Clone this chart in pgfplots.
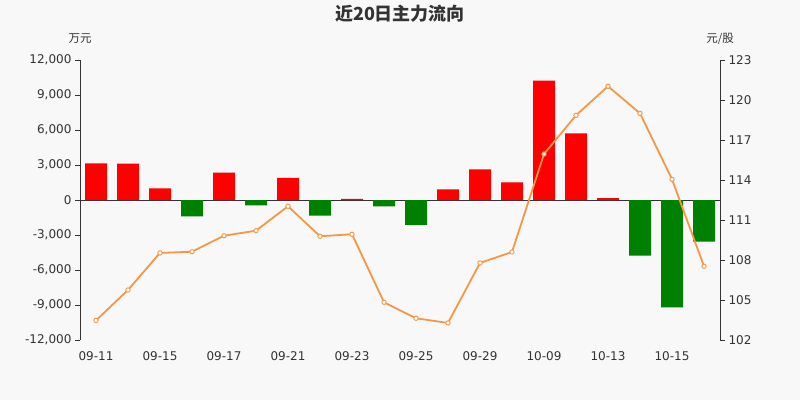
\documentclass[border=0pt]{standalone}
\usepackage{fontspec}
\setmainfont{DejaVu Sans}
\newfontfamily\cjk{Noto Sans CJK SC}
\usepackage{pgfplots}
\pgfplotsset{compat=1.18}
\definecolor{bgcol}{HTML}{F8F8F8}
\definecolor{txt}{HTML}{333333}
\definecolor{upred}{HTML}{FF0000}
\definecolor{dngreen}{HTML}{008000}
\definecolor{pricecol}{HTML}{F79646}
\begin{document}
\begin{tikzpicture}[x=1pt,y=1pt]
\useasboundingbox (0,0) rectangle (800,400);
\fill[bgcol] (0,0) rectangle (800,400);
\node[font=\cjk\bfseries\fontsize{18}{18}\selectfont, text=txt] at (400,386) {近20日主力流向};
\node[font=\cjk\fontsize{11.5}{11.5}\selectfont, text=txt] at (80,361) {万元};
\node[font=\cjk\fontsize{11.5}{11.5}\selectfont, text=txt] at (720,361) {元/股};
\begin{axis}[
  at={(80pt,60pt)}, anchor=south west,
  scale only axis, width=640pt, height=280pt,
  xmin=-0.5, xmax=19.5, ymin=-12000, ymax=12000,
  axis y line*=left, axis x line*=middle,
  hide obscured y ticks=false, hide obscured x ticks=false,
  axis line style={txt, line width=0.8pt, -},
  every tick/.style={txt, line width=0.8pt},
  tick align=outside, major tick length=5pt,
  scaled y ticks=false,
  ytick={-12000,-9000,...,12000},
  yticklabels={{-12,000},{-9,000},{-6,000},{-3,000},0,{3,000},{6,000},{9,000},{12,000}},
  xtick={0,2,...,18},
  xticklabels={09-11,09-15,09-17,09-21,09-23,09-25,09-29,10-09,10-13,10-15},
  x tick style={draw=none},
  extra x ticks={1.5,3.5,...,17.5},
  extra x tick labels={},
  extra x tick style={x tick style={txt, line width=0.8pt}, major tick length=5pt},
  xticklabel shift=143pt,
  ticklabel style={font=\fontsize{12}{12}\selectfont, text=txt},
  /pgf/number format/assume math mode=true,
  ybar, bar width=22pt, bar shift=0pt,
  clip=false,
]
\addplot[fill=upred, draw=none] coordinates {
 (0,3150) (1,3120) (2,1000) (4,2340) (6,1890) (8,90)
 (11,920) (12,2630) (13,1515) (14,10230) (15,5715) (16,170)};
\addplot[fill=dngreen, draw=none] coordinates {
 (3,-1400) (5,-460) (7,-1340) (9,-540) (10,-2140)
 (17,-4770) (18,-9200) (19,-3570)};
\end{axis}
\begin{axis}[
  at={(80pt,60pt)}, anchor=south west,
  scale only axis, width=640pt, height=280pt,
  xmin=-0.5, xmax=19.5, ymin=102, ymax=123,
  axis y line*=right, axis x line=none,
  axis line style={txt, line width=0.8pt, -},
  every tick/.style={txt, line width=0.8pt},
  tick align=outside, major tick length=5pt,
  ytick={102,105,...,123},
  ticklabel style={font=\fontsize{12}{12}\selectfont, text=txt},
  /pgf/number format/assume math mode=true,
  clip=false,
]
\addplot[color=pricecol, line width=1.8pt, mark=*, mark size=2.2pt,
  mark options={fill=white, draw=pricecol, line width=0.9pt}] coordinates {
 (0,103.47) (1,105.75) (2,108.53) (3,108.62) (4,109.82) (5,110.20)
 (6,112.03) (7,109.78) (8,109.93) (9,104.83) (10,103.63) (11,103.28)
 (12,107.78) (13,108.60) (14,115.95) (15,118.85) (16,121.03) (17,119.00)
 (18,114.05) (19,107.53)};
\end{axis}
\end{tikzpicture}
\end{document}
